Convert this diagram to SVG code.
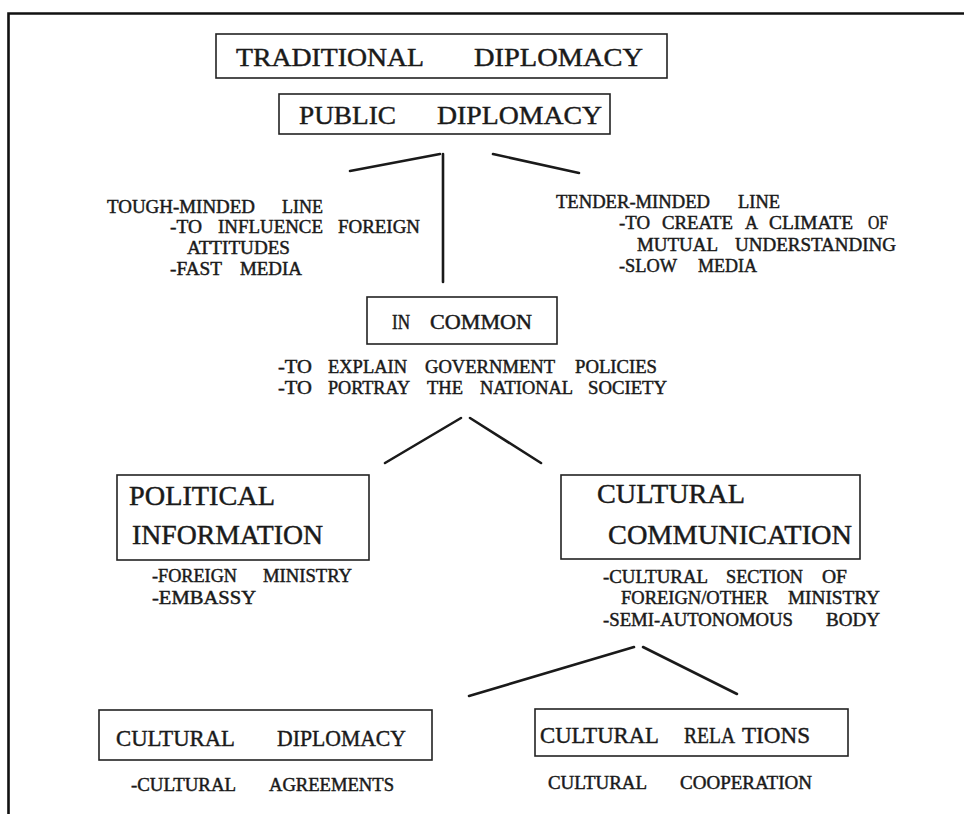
<svg xmlns="http://www.w3.org/2000/svg" width="964" height="814" viewBox="0 0 964 814">
  <style>
    .box { fill: #fff; stroke: #222; stroke-width: 1.6; }
    .ln { fill: none; stroke: #1a1a1a; stroke-width: 2.6; stroke-linecap: round; }
    text { font-family: "Liberation Serif", "Times New Roman", serif; fill: #1a1a1a; stroke: #1a1a1a; stroke-width: 0.45; }
    .t1 { font-size: 26px; }
    .hd { font-size: 28px; }
    .h2 { font-size: 24px; }
    .h3 { font-size: 20px; }
    .sm { font-size: 18px; }
  </style>
  <rect width="964" height="814" fill="#fff"/>
  <!-- page frame -->
  <path d="M8.5,814 V13.5 H964" fill="none" stroke="#111" stroke-width="2.6"/>

  <!-- connectors -->
  <g id="connectors">
    <line class="ln" x1="350" y1="171" x2="440" y2="154"/>
    <line class="ln" x1="443" y1="154" x2="443" y2="282"/>
    <line class="ln" x1="493" y1="154" x2="579" y2="173"/>
    <line class="ln" x1="385" y1="463" x2="461" y2="418"/>
    <line class="ln" x1="470" y1="418" x2="541" y2="463"/>
    <line class="ln" x1="469" y1="696" x2="634" y2="647"/>
    <line class="ln" x1="643" y1="647" x2="737" y2="694"/>
  </g>

  <g id="traditional-diplomacy">
    <rect class="box" x="216" y="34" width="451" height="44"/>
    <text class="t1" y="66"><tspan x="236" textLength="188" lengthAdjust="spacingAndGlyphs">TRADITIONAL</tspan><tspan x="474" textLength="169" lengthAdjust="spacingAndGlyphs">DIPLOMACY</tspan></text>
  </g>

  <g id="public-diplomacy">
    <rect class="box" x="279" y="94" width="331" height="40"/>
    <text class="t1" y="124"><tspan x="299" textLength="97" lengthAdjust="spacingAndGlyphs">PUBLIC</tspan><tspan x="437" textLength="165" lengthAdjust="spacingAndGlyphs">DIPLOMACY</tspan></text>
  </g>

  <g id="tough-minded-line">
    <text class="sm" y="213"><tspan x="107" textLength="148" lengthAdjust="spacingAndGlyphs">TOUGH-MINDED</tspan><tspan x="282" textLength="41" lengthAdjust="spacingAndGlyphs">LINE</tspan></text>
    <text class="sm" y="233"><tspan x="170" textLength="32" lengthAdjust="spacingAndGlyphs">-TO</tspan><tspan x="218" textLength="105" lengthAdjust="spacingAndGlyphs">INFLUENCE</tspan><tspan x="338" textLength="82" lengthAdjust="spacingAndGlyphs">FOREIGN</tspan></text>
    <text class="sm" y="254"><tspan x="187" textLength="103" lengthAdjust="spacingAndGlyphs">ATTITUDES</tspan></text>
    <text class="sm" y="275"><tspan x="170" textLength="52" lengthAdjust="spacingAndGlyphs">-FAST</tspan><tspan x="240" textLength="62" lengthAdjust="spacingAndGlyphs">MEDIA</tspan></text>
  </g>

  <g id="tender-minded-line">
    <text class="sm" y="208"><tspan x="556" textLength="154" lengthAdjust="spacingAndGlyphs">TENDER-MINDED</tspan><tspan x="738" textLength="42" lengthAdjust="spacingAndGlyphs">LINE</tspan></text>
    <text class="sm" y="229"><tspan x="619" textLength="31" lengthAdjust="spacingAndGlyphs">-TO</tspan><tspan x="662" textLength="71" lengthAdjust="spacingAndGlyphs">CREATE</tspan><tspan x="745" textLength="13" lengthAdjust="spacingAndGlyphs">A</tspan><tspan x="769" textLength="84" lengthAdjust="spacingAndGlyphs">CLIMATE</tspan><tspan x="868" textLength="20" lengthAdjust="spacingAndGlyphs">OF</tspan></text>
    <text class="sm" y="251"><tspan x="637" textLength="81" lengthAdjust="spacingAndGlyphs">MUTUAL</tspan><tspan x="735" textLength="161" lengthAdjust="spacingAndGlyphs">UNDERSTANDING</tspan></text>
    <text class="sm" y="272"><tspan x="619" textLength="58" lengthAdjust="spacingAndGlyphs">-SLOW</tspan><tspan x="698" textLength="59" lengthAdjust="spacingAndGlyphs">MEDIA</tspan></text>
  </g>

  <g id="in-common">
    <rect class="box" x="367" y="297" width="190" height="47"/>
    <text class="h3" y="329"><tspan x="392" textLength="18" lengthAdjust="spacingAndGlyphs">IN</tspan><tspan x="430" textLength="102" lengthAdjust="spacingAndGlyphs">COMMON</tspan></text>
    <text class="sm" y="373"><tspan x="278" textLength="34" lengthAdjust="spacingAndGlyphs">-TO</tspan><tspan x="328" textLength="79" lengthAdjust="spacingAndGlyphs">EXPLAIN</tspan><tspan x="425" textLength="130" lengthAdjust="spacingAndGlyphs">GOVERNMENT</tspan><tspan x="575" textLength="82" lengthAdjust="spacingAndGlyphs">POLICIES</tspan></text>
    <text class="sm" y="394"><tspan x="278" textLength="34" lengthAdjust="spacingAndGlyphs">-TO</tspan><tspan x="328" textLength="82" lengthAdjust="spacingAndGlyphs">PORTRAY</tspan><tspan x="427" textLength="36" lengthAdjust="spacingAndGlyphs">THE</tspan><tspan x="480" textLength="93" lengthAdjust="spacingAndGlyphs">NATIONAL</tspan><tspan x="588" textLength="79" lengthAdjust="spacingAndGlyphs">SOCIETY</tspan></text>
  </g>

  <g id="political-information">
    <rect class="box" x="117" y="475" width="252" height="85"/>
    <text class="hd" y="505"><tspan x="129" textLength="146" lengthAdjust="spacingAndGlyphs">POLITICAL</tspan></text>
    <text class="hd" y="544"><tspan x="132" textLength="191" lengthAdjust="spacingAndGlyphs">INFORMATION</tspan></text>
    <text class="sm" y="582"><tspan x="152" textLength="85" lengthAdjust="spacingAndGlyphs">-FOREIGN</tspan><tspan x="263" textLength="89" lengthAdjust="spacingAndGlyphs">MINISTRY</tspan></text>
    <text class="sm" y="604"><tspan x="152" textLength="104" lengthAdjust="spacingAndGlyphs">-EMBASSY</tspan></text>
  </g>

  <g id="cultural-communication">
    <rect class="box" x="561" y="475" width="299" height="84"/>
    <text class="hd" y="503"><tspan x="597" textLength="148" lengthAdjust="spacingAndGlyphs">CULTURAL</tspan></text>
    <text class="hd" y="544"><tspan x="608" textLength="244" lengthAdjust="spacingAndGlyphs">COMMUNICATION</tspan></text>
    <text class="sm" y="583"><tspan x="603" textLength="105" lengthAdjust="spacingAndGlyphs">-CULTURAL</tspan><tspan x="726" textLength="77" lengthAdjust="spacingAndGlyphs">SECTION</tspan><tspan x="822" textLength="25" lengthAdjust="spacingAndGlyphs">OF</tspan></text>
    <text class="sm" y="604"><tspan x="621" textLength="147" lengthAdjust="spacingAndGlyphs">FOREIGN/OTHER</tspan><tspan x="788" textLength="92" lengthAdjust="spacingAndGlyphs">MINISTRY</tspan></text>
    <text class="sm" y="626"><tspan x="603" textLength="190" lengthAdjust="spacingAndGlyphs">-SEMI-AUTONOMOUS</tspan><tspan x="826" textLength="54" lengthAdjust="spacingAndGlyphs">BODY</tspan></text>
  </g>

  <g id="cultural-diplomacy">
    <rect class="box" x="99" y="710" width="333" height="50"/>
    <text class="h2" y="746"><tspan x="116" textLength="119" lengthAdjust="spacingAndGlyphs">CULTURAL</tspan><tspan x="277" textLength="129" lengthAdjust="spacingAndGlyphs">DIPLOMACY</tspan></text>
    <text class="sm" y="791"><tspan x="131" textLength="105" lengthAdjust="spacingAndGlyphs">-CULTURAL</tspan><tspan x="269" textLength="125" lengthAdjust="spacingAndGlyphs">AGREEMENTS</tspan></text>
  </g>

  <g id="cultural-relations">
    <rect class="box" x="535" y="709" width="313" height="47"/>
    <text class="h2" y="743"><tspan x="540" textLength="119" lengthAdjust="spacingAndGlyphs">CULTURAL</tspan><tspan x="684" textLength="51" lengthAdjust="spacingAndGlyphs">RELA</tspan><tspan x="742" textLength="68" lengthAdjust="spacingAndGlyphs">TIONS</tspan></text>
    <text class="sm" y="789"><tspan x="548" textLength="99" lengthAdjust="spacingAndGlyphs">CULTURAL</tspan><tspan x="680" textLength="132" lengthAdjust="spacingAndGlyphs">COOPERATION</tspan></text>
  </g>
</svg>
